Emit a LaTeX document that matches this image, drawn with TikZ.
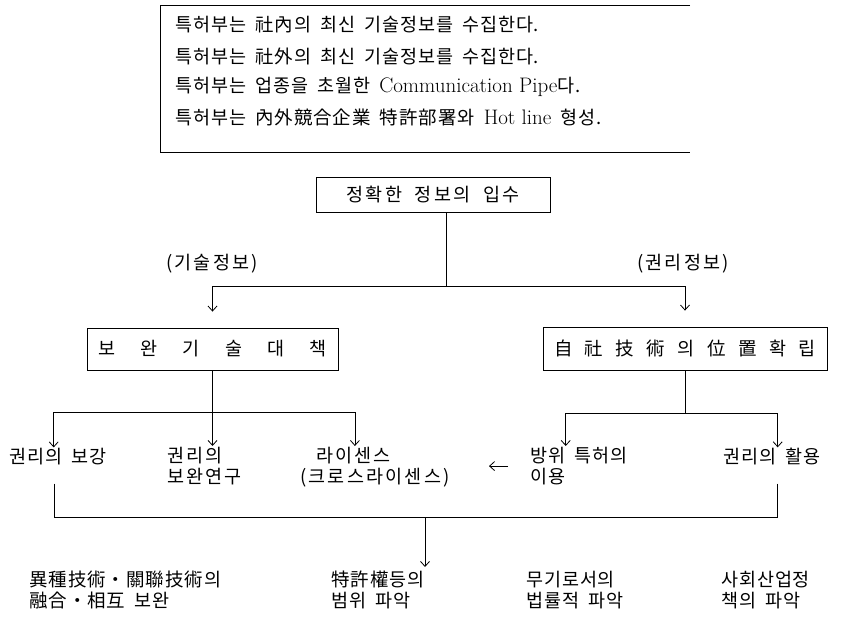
\documentclass[tikz,border=0pt]{standalone}
\usepackage{fontspec}
\newfontfamily\kr[LetterSpace=5,WordSpace=1.8]{Noto Sans CJK KR}
\newcommand{\lat}[1]{{\rmfamily\fontsize{21}{21}\selectfont #1}}
\usetikzlibrary{arrows.meta,calc}
\begin{document}
\begin{tikzpicture}[x=1pt,y=-1pt,
  txt/.style={font=\kr\fontsize{18.5}{21}\selectfont, inner sep=1pt, align=left},
  wide/.style={txt,font=\kr\fontsize{18.5}{21}\selectfont\addfontfeatures{LetterSpace=12}},
  ln/.style={line width=0.8pt},
  arr/.style={ln,-{Straight Barb[length=5pt,width=9pt]}},
  boxed/.style={txt,draw,ln,align=center,inner sep=0pt}]
\useasboundingbox (0,0) rectangle (843,617);
% top statement box
\node[txt,anchor=west] (t1) at (174,25) {특허부는 社內의 최신 기술정보를 수집한다.};
\node[txt,anchor=west] (t2) at (174,56) {특허부는 社外의 최신 기술정보를 수집한다.};
\node[txt,anchor=west] (t3) at (174,87) {특허부는 업종을 초월한 \lat{Communication Pipe}다.};
\node[txt,anchor=west] (t4) at (174,117) {특허부는 內外競合企業 特許部署와 \lat{Hot line} 형성.};
\draw[ln] (690,5) -- (160,5) -- (160,152) -- (690,152);
% main box
\node[boxed,minimum width=234pt,minimum height=35pt,font=\kr\fontsize{18.5}{21}\selectfont\addfontfeatures{LetterSpace=14}] (b1) at (433,195) {정확한 정보의 입수};
\node[wide] (l1) at (212,264) {(기술정보)};
\node[wide] (l2) at (683,264) {(권리정보)};
\node[boxed,minimum width=251pt,minimum height=42pt] (b2) at (212.5,349) {\makebox[228pt][s]{보\hfil 완\hfil 기\hfil 술\hfil 대\hfil 책}};
\node[boxed,minimum width=284pt,minimum height=43pt] (b3) at (685,348.5) {\makebox[262pt][s]{自\hfil 社\hfil 技\hfil 術\hfil 의\hfil 位\hfil 置\hfil 확\hfil 립}};
\coordinate (j1) at (446,286);
\draw[ln] ([xshift=13pt]b1.south) -- (j1);
\draw[arr,shorten >=16pt] (j1) -| (b2.north);
\draw[arr,shorten >=16pt] (j1) -| (b3.north);
% third row
\node[txt,anchor=west] (n1) at (8,457) {권리의 보강};
\node[wide,anchor=north west] (n2) at (166,446) {권리의\\보완연구};
\node[wide,anchor=north west] (n3) at (299,446) {\hspace*{16pt}라이센스\\(크로스라이센스)};
\node[txt,anchor=north west] (n4) at (529,446) {방위 특허의\\이용};
\node[txt,anchor=west] (n5) at (722,457) {권리의 활용};
\coordinate (j2) at (212.5,412);
\draw[ln] (b2.south) -- (j2);
\draw[arr] (j2) -| ([xshift=-4pt]n1.north);
\draw[arr] (j2) -- (j2 |- n2.north);
\draw[arr] (j2) -| ([xshift=-20pt]n3.north);
\coordinate (j3) at (685,413);
\draw[ln] (b3.south) -- (j3);
\draw[arr] (j3) -| ([xshift=-13pt]n4.north);
\draw[arr] (j3) -| ([xshift=6pt]n5.north);
\draw[arr] ([xshift=-21pt]n4.west) -- ([xshift=-40pt]n4.west);
% bottom collection
\coordinate (j4) at (425,517);
\draw[ln,shorten <=17pt] ([xshift=-3pt]n1.south) |- (j4);
\draw[ln,shorten <=17pt] ([xshift=6pt]n5.south) |- (j4);
\coordinate (e) at (425,567);
\draw[arr] (j4) -- (e);
\node[txt,anchor=north west] (m1) at (28,570) {異種技術・關聯技術의\\融合・相互 보완};
\node[txt,anchor=north west] (m2) at (330,570) {特許權등의\\범위 파악};
\node[txt,anchor=north west] (m3) at (525,570) {무기로서의\\법률적 파악};
\node[txt,anchor=north west] (m4) at (720,570) {사회산업정\\책의 파악};
\end{tikzpicture}
\end{document}
